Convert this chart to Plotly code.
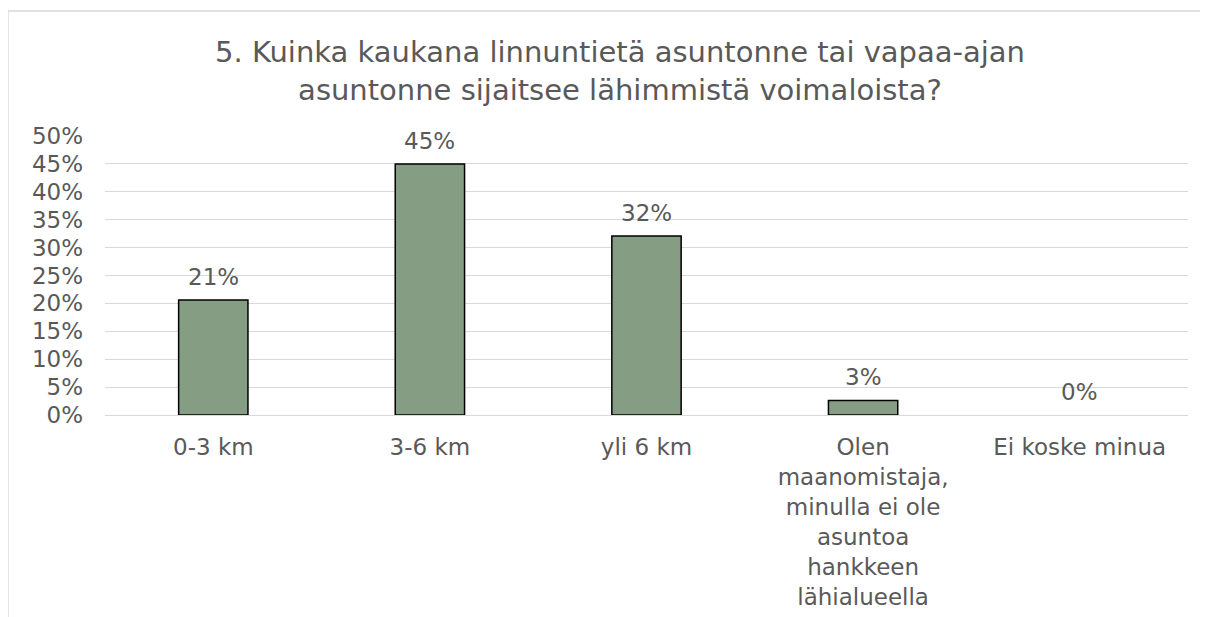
import plotly.graph_objects as go

categories = ["0-3 km", "3-6 km", "yli 6 km",
              "Olen<br>maanomistaja,<br>minulla ei ole<br>asuntoa<br>hankkeen<br>lähialueella",
              "Ei koske minua"]
shares = [0.206, 0.45, 0.321, 0.026, 0.0]
y_ticks = [0, 0.05, 0.10, 0.15, 0.20, 0.25, 0.30, 0.35, 0.40, 0.45, 0.50]

grey_text = "#595959"
font_name = "DejaVu Sans"

# Excel draws no outline for a zero-height bar
outline_widths = [1.5 if v > 0 else 0 for v in shares]

fig = go.Figure()
fig.add_trace(go.Bar(x=categories, y=shares,
                     marker=dict(color="#859E83", line=dict(color="#000000", width=outline_widths)),
                     hoverinfo="skip"))

# data labels above the bars
for cat, val in zip(categories, shares):
    fig.add_annotation(x=cat, y=val, text=f"{val:.0%}", showarrow=False,
                       yanchor="bottom", yshift=8,
                       font=dict(family=font_name, size=23, color=grey_text))

# chart border (Excel chart area, cropped on right and bottom)
fig.add_shape(type="line", xref="paper", yref="paper", x0=-0.0896, x1=1.2, y0=1.448, y1=1.448,
              line=dict(color="#d9d9d9", width=1.5))
fig.add_shape(type="line", xref="paper", yref="paper", x0=-0.0896, x1=-0.0896, y0=-1.0, y1=1.448,
              line=dict(color="#d9d9d9", width=1.5))

# page body has an 8px margin, so the figure is sized to end at the window edge
fig.update_layout(
    width=1200, height=609,
    margin=dict(l=97, r=20, t=128, b=202),
    paper_bgcolor="white", plot_bgcolor="white",
    bargap=0.68, showlegend=False,
    font=dict(family=font_name, size=23, color=grey_text),
    title=dict(text="5. Kuinka kaukana linnuntietä asuntonne tai vapaa-ajan<br>asuntonne sijaitsee lähimmistä voimaloista?",
               x=0.51, xref="container", xanchor="center",
               y=1 - 54 / 609, yref="container", yanchor="middle",
               font=dict(family=font_name, size=29, color=grey_text)),
    xaxis=dict(showgrid=False, showline=False, ticks="", ticklabelstandoff=16, automargin=False,
               tickfont=dict(size=23, color=grey_text)),
    yaxis=dict(range=[0, 0.5], tickvals=y_ticks, tickformat=".0%", automargin=False,
               showgrid=True, gridcolor="#d9d9d9", gridwidth=1.3,
               zeroline=True, zerolinecolor="#d9d9d9", zerolinewidth=1.3,
               showline=False, ticks="", ticklabelstandoff=21,
               tickfont=dict(size=23, color=grey_text)),
)

fig.write_html("out.html")
